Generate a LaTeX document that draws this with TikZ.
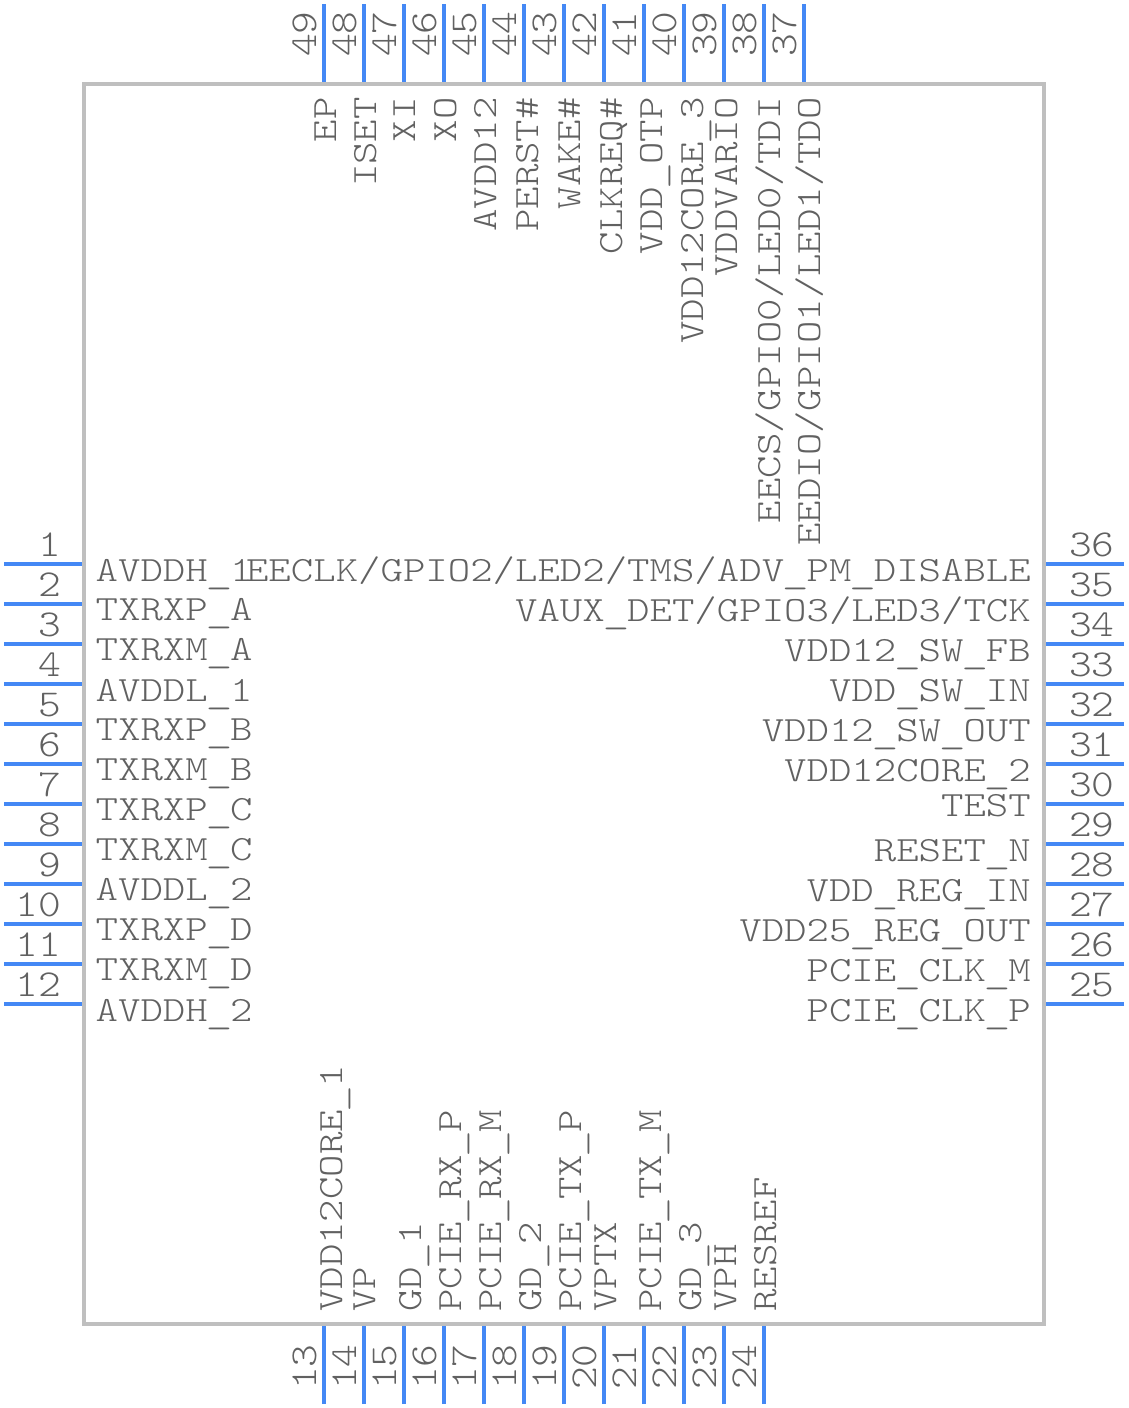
\documentclass[tikz,border=0pt]{standalone}
\usepackage{fontspec}
\setmainfont{Latin Modern Mono Light}[FakeStretch=1.203]
\newfontfamily\numfont{Latin Modern Mono Light}[FakeStretch=1.14]
\newcommand\us{\raisebox{-2.5pt}{\makebox[22.42pt][c]{\scalebox{1.2}[1]{\_}}}}
\definecolor{pinblue}{HTML}{4488F5}
\definecolor{boxgray}{HTML}{BFBFBF}
\definecolor{txtgray}{HTML}{616161}
\tikzset{
  lbl/.style={text=txtgray,inner sep=0pt,font=\fontsize{35.5}{36}\selectfont},
  numlbl/.style={text=txtgray,inner sep=0pt,font=\numfont\fontsize{38}{38}\selectfont},
  pinline/.style={draw=pinblue,line width=4pt},
}
\begin{document}
\begin{tikzpicture}[x=1pt,y=-1pt]
\useasboundingbox (0,0) rectangle (1128,1408);
\node[draw=boxgray,line width=4pt,minimum width=960pt,minimum height=1240pt,inner sep=0pt,outer sep=0pt] (body) at (564,704) {};
% left pins
\foreach \n/\t/\o [evaluate=\n as \y using {564+40*(\n-1)}] in {1/AVDDH\us 1/17,2/TXRXP\us A/16,3/TXRXM\us A/16,4/AVDDL\us 1/17,5/TXRXP\us B/16,6/TXRXM\us B/16,7/TXRXP\us C/16,8/TXRXM\us C/16,9/AVDDL\us 2/16,10/TXRXP\us D/16,11/TXRXM\us D/16,12/AVDDH\us 2/17}{
  \coordinate (p\n) at (4,\y);
  \coordinate (q\n) at (82,\y);
  \draw[pinline] (p\n) -- (q\n);
  \node[numlbl,anchor=base east] (num\n) at (61,\y-8) {\n};
  \node[lbl,anchor=base west] (lab\n) at (95.5,\y+\o) {\t};
}
% right pins
\foreach \n/\t/\o [evaluate=\n as \y using {564+40*(36-\n)}] in {36/{EECLK/GPIO2/LED2/TMS/ADV\us PM\us DISABLE}/17,35/{VAUX\us DET/GPIO3/LED3/TCK}/17,34/VDD12\us SW\us FB/17,33/VDD\us SW\us IN/17,32/VDD12\us SW\us OUT/17,31/VDD12CORE\us 2/17,30/TEST/12,29/RESET\us N/17,28/VDD\us REG\us IN/17,27/VDD25\us REG\us OUT/17,26/PCIE\us CLK\us M/17,25/PCIE\us CLK\us P/17}{
  \coordinate (p\n) at (1124,\y);
  \coordinate (q\n) at (1046,\y);
  \draw[pinline] (p\n) -- (q\n);
  \node[numlbl,anchor=base west] (num\n) at (1069,\y-8) {\n};
  \node[lbl,anchor=base east] (lab\n) at (1031,\y+\o) {\t};
}
% top pins
\foreach \n/\t/\o [evaluate=\n as \x using {324+40*(49-\n)}] in {49/EP/12,48/ISET/12,47/XI/11,46/XO/12,45/AVDD12/12,44/PERST\#/14,43/WAKE\#/16,42/CLKREQ\#/18,41/VDD\us OTP/18,40/VDD12CORE\us 3/19,39/VDDVARIO/13,38/{EECS/GPIO0/LED0/TDI}/16,37/{EEDIO/GPIO1/LED1/TDO}/16}{
  \coordinate (p\n) at (\x,4);
  \coordinate (q\n) at (\x,82);
  \draw[pinline] (p\n) -- (q\n);
  \node[numlbl,rotate=90,anchor=base west] (num\n) at (\x-8,57) {\n};
  \node[lbl,rotate=90,anchor=base east] (lab\n) at (\x+\o,97) {\t};
}
% bottom pins
\foreach \n/\t/\o [evaluate=\n as \x using {324+40*(\n-13)}] in {13/VDD12CORE\us 1/18,14/VP/11,15/GD\us 1/17,16/PCIE\us RX\us P/17,17/PCIE\us RX\us M/17,18/GD\us 2/17,19/PCIE\us TX\us P/17,20/VPTX/12,21/PCIE\us TX\us M/17,22/GD\us 3/17,23/VPH/12,24/RESREF/12}{
  \coordinate (p\n) at (\x,1404);
  \coordinate (q\n) at (\x,1326);
  \draw[pinline] (p\n) -- (q\n);
  \node[numlbl,rotate=90,anchor=base west] (num\n) at (\x-8,1390) {\n};
  \node[lbl,rotate=90,anchor=base west] (lab\n) at (\x+\o,1312) {\t};
}
\end{tikzpicture}
\end{document}
